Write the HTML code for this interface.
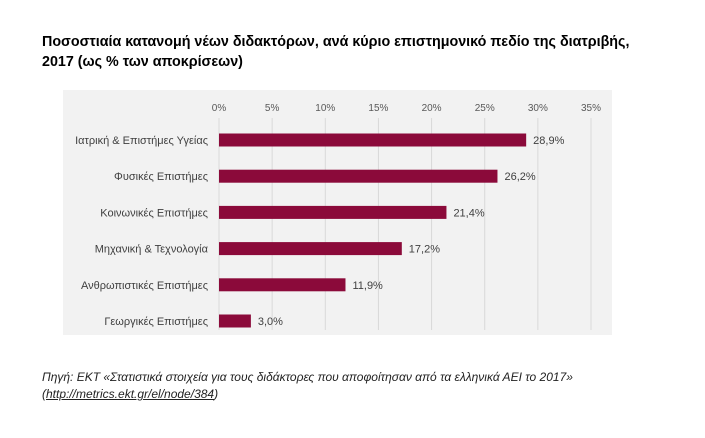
<!DOCTYPE html>
<html><head><meta charset="utf-8"><style>
body{margin:0;width:705px;height:438px;background:#fff;font-family:"Liberation Sans","DejaVu Sans",sans-serif;position:relative;overflow:hidden}
.title{position:absolute;left:42px;top:32px;font-size:14.3px;font-weight:bold;line-height:20px;color:#000;white-space:nowrap}
.src{position:absolute;left:42px;top:369px;font-size:12px;font-style:italic;line-height:17px;color:#222;white-space:nowrap}
.src a{color:#222;text-decoration:underline}
</style></head><body>
<div class="title">Ποσοστιαία κατανομή νέων διδακτόρων, ανά κύριο επιστημονικό πεδίο της διατριβής,<br>2017 (ως % των αποκρίσεων)</div>
<svg id="chart" width="705" height="438" style="position:absolute;left:0;top:0"></svg>
<div class="src">Πηγή: ΕΚΤ «Στατιστικά στοιχεία για τους διδάκτορες που αποφοίτησαν από τα ελληνικά ΑΕΙ το 2017»<br>(<a>http://metrics.ekt.gr/el/node/384</a>)</div>
<script>
const categories=["Ιατρική & Επιστήμες Υγείας","Φυσικές Επιστήμες","Κοινωνικές Επιστήμες","Μηχανική & Τεχνολογία","Ανθρωπιστικές Επιστήμες","Γεωργικές Επιστήμες"];
const values=[28.9,26.2,21.4,17.2,11.9,3.0];
const valueLabels=["28,9%","26,2%","21,4%","17,2%","11,9%","3,0%"];
const ticks=[0,5,10,15,20,25,30,35];
const NS="http://www.w3.org/2000/svg";
const svg=document.getElementById('chart');
const x=v=>219+v*(372/35);
const y=i=>140+i*36.2;
function mk(t,a){const e=document.createElementNS(NS,t);for(const k in a)e.setAttribute(k,a[k]);svg.appendChild(e);return e;}
const bg=mk('rect',{x:63,y:90,width:549,height:245,fill:'#f2f2f2'});


ticks.forEach(t=>{
 const l=mk('line',{x1:x(t),x2:x(t),y1:118,y2:330,stroke:'#d9d9d9','stroke-width':1});
 
 
 const tx=mk('text',{x:x(t),y:111,'text-anchor':'middle','font-size':10,fill:'#595959'});
 tx.textContent=t+'%';
 
 
});
categories.forEach((c,i)=>{
 const r=mk('rect',{x:x(0),y:y(i)-6.5,width:x(values[i])-x(0),height:13,fill:'#8b0a3a'});
 
 
 const lb=mk('text',{x:208,y:y(i)+4,'text-anchor':'end','font-size':11,fill:'#404040'});
 lb.textContent=c;
 
 
 const vl=mk('text',{x:x(values[i])+7,y:y(i)+4,'font-size':11,fill:'#404040'});
 vl.textContent=valueLabels[i];
 
 
});
</script>
</body></html>
